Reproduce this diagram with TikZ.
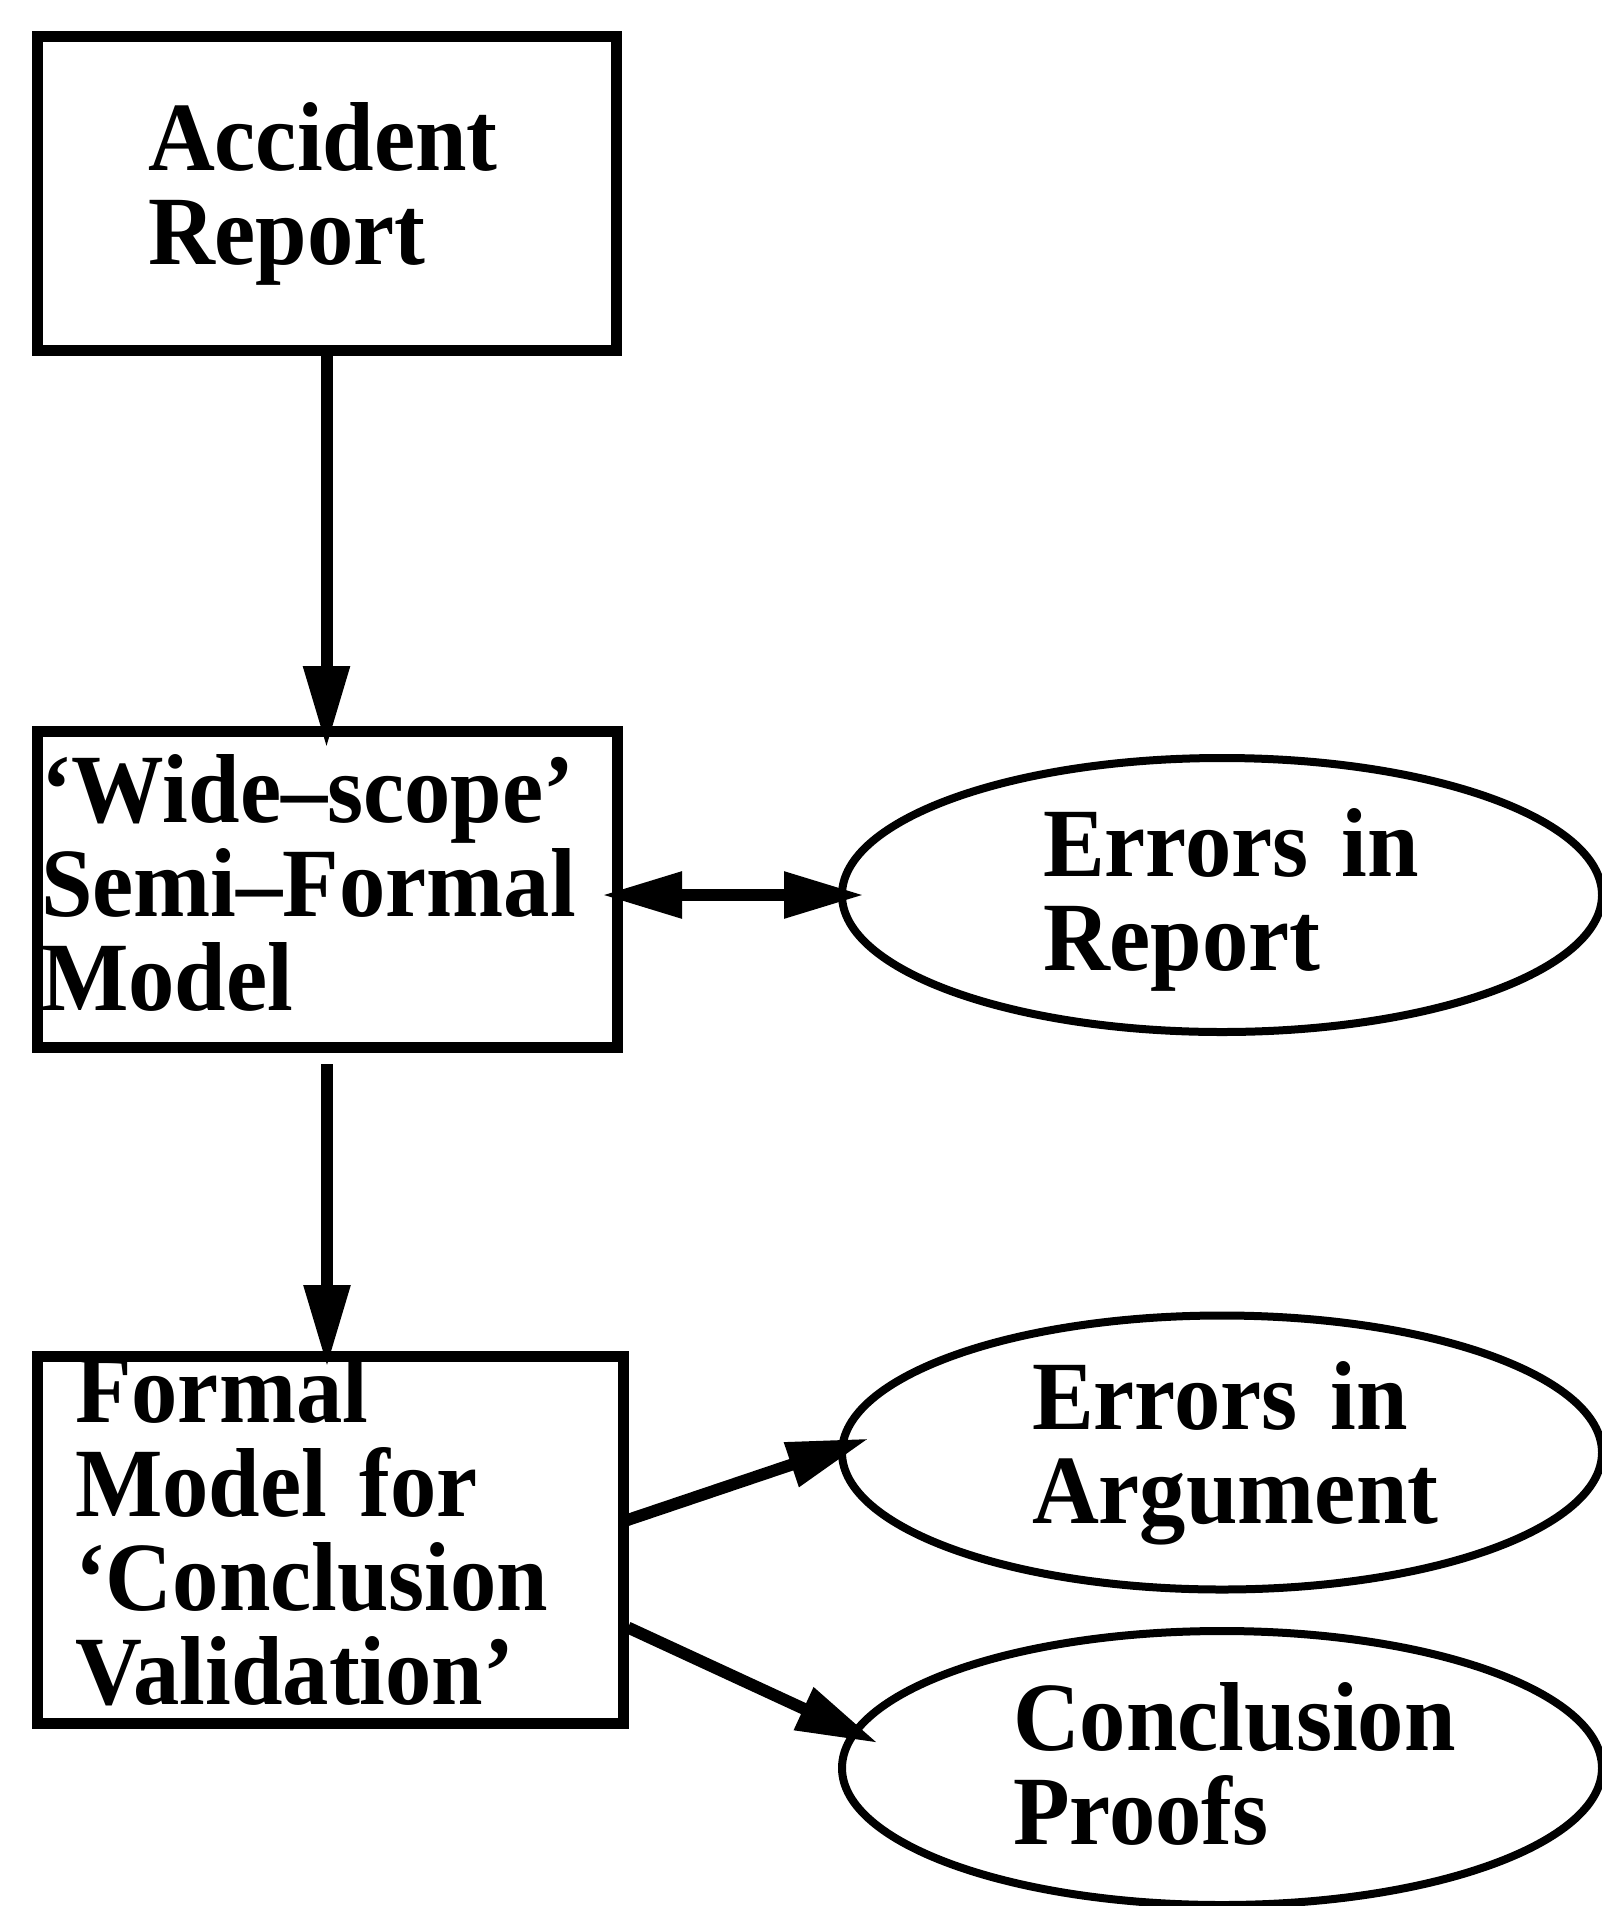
\documentclass[tikz,border=0pt]{standalone}
\usepackage{fontspec}
\setmainfont{Liberation Serif}[FakeStretch=0.945]
\usetikzlibrary{arrows.meta,shapes.geometric,calc}
\begin{document}
\begin{tikzpicture}[x=1pt,y=-1pt,
  box/.style={draw, line width=11pt, rectangle, inner sep=0pt, outer sep=0pt},
  oval/.style={draw, line width=8pt, ellipse, inner sep=0pt, outer sep=0pt,
    minimum width=760pt, minimum height=274pt},
  lbl/.style={anchor=base west, inner sep=0pt, outer sep=0pt, text width=600pt,
    align=left, font=\fontsize{98pt}{94pt}\selectfont\bfseries},
  arr/.style={line width=12pt, -{Triangle[length=82pt,width=44pt]}},
  darr/.style={line width=12pt,
    {Triangle[length=80pt,width=44pt]}-{Triangle[length=80pt,width=44pt]}},
]
\useasboundingbox (0,0) rectangle (1601,1906);

% boxes
\node[box, minimum width=579pt, minimum height=314pt] (acc) at (326.5,193) {};
\node[box, minimum width=580pt, minimum height=316pt] (wide) at (327,889) {};
\node[box, minimum width=586pt, minimum height=367pt] (form) at (330,1539.5) {};

% ovals
\node[oval] (err1) at (1222,895) {};
\node[oval] (err2) at (1222,1452.5) {};
\node[oval] (err3) at (1222,1768) {};

% labels
\node[lbl] (accT) at (148,170) {Accident\\Report};
\node[lbl] (wideT) at (41,822) {‘Wide–scope’\\Semi–Formal\\Model};
\node[lbl] (formT) at (75,1422) {Formal\\Model for\\‘Conclusion\\Validation’};
\node[lbl] (err1T) at (1043,876) {Errors in\\Report};
\node[lbl] (err2T) at (1032,1429) {Errors in\\Argument};
\node[lbl] (err3T) at (1013,1750) {Conclusion\\Proofs};

% connectors
\draw[arr, shorten >=-17pt] (acc.south) -- (acc.south |- wide.north);
\draw[arr, shorten <=17pt, shorten >=-11pt] (wide.south) -- (wide.south |- form.north);
\draw[darr, shorten <=-15pt, shorten >=-22pt] (wide.east |- err1.west) -- (err1.west);
\draw[arr] ($(form.east)+(3,-19)$) -- ($(err2.west)+(27,-14)$);
\draw[arr] ($(form.east)+(5,88)$) -- ($(err3.west)+(36,-25)$);
\end{tikzpicture}
\end{document}
